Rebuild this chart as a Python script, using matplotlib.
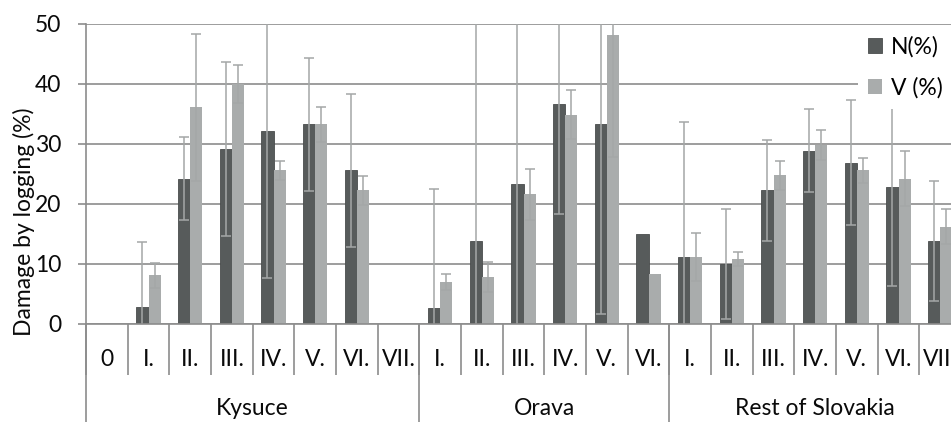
import numpy as np
import matplotlib.pyplot as plt

plt.rcParams['font.family'] = ['Lato', 'DejaVu Sans']

# stand groups and age classes
groups = ['Kysuce', 'Orava', 'Rest of Slovakia']
classes = [['0', 'I.', 'II.', 'III.', 'IV.', 'V.', 'VI.', 'VII.'],
           ['I.', 'II.', 'III.', 'IV.', 'V.', 'VI.'],
           ['I.', 'II.', 'III.', 'IV.', 'V.', 'VI.', 'VII.']]

nan = np.nan
# damage by number of trees, N(%)
n_kysuce = [nan, 2.8, 24.2, 29.2, 32.2, 33.3, 25.6, nan]
n_orava = [2.6, 13.9, 23.4, 36.6, 33.3, 15.0]
n_rest = [11.1, 10.0, 22.3, 28.9, 26.9, 22.9, 13.8]
n_kysuce_err = [nan, 10.9, 6.9, 14.5, 24.5, 11.1, 12.7, nan]
n_orava_err = [19.9, 38.0, 30.0, 18.3, 31.6, nan]
n_rest_err = [22.6, 9.1, 8.4, 6.9, 10.4, 16.6, 10.0]

# damage by volume, V (%)
v_kysuce = [nan, 8.1, 36.1, 40.0, 25.6, 33.3, 22.3, nan]
v_orava = [7.0, 7.8, 21.6, 34.9, 48.2, 8.3]
v_rest = [11.1, 10.8, 24.8, 29.9, 25.6, 24.2, 16.2]
v_kysuce_err = [nan, 2.1, 12.2, 3.1, 1.6, 2.9, 2.4, nan]
v_orava_err = [1.3, 2.5, 4.3, 4.1, 20.4, nan]
v_rest_err = [4.0, 1.2, 2.4, 2.5, 2.1, 4.6, 2.9]

n_vals = np.array(n_kysuce + n_orava + n_rest)
v_vals = np.array(v_kysuce + v_orava + v_rest)
n_err = np.array(n_kysuce_err + n_orava_err + n_rest_err)
v_err = np.array(v_kysuce_err + v_orava_err + v_rest_err)
labels = [c for g in classes for c in g]
x = np.arange(len(labels))

sizes = [len(g) for g in classes]
edges = np.concatenate([[0], np.cumsum(sizes)]) - 0.5
group_mid = (edges[:-1] + edges[1:]) / 2

c_n = '#575b5b'
c_v = '#a9acac'
c_line = '#8c8c8c'
c_err = '#a4a7a7'
c_txt = '#0a0a0a'
fs = 16.5
w = 0.29

fig = plt.figure(figsize=(9.51, 4.22), dpi=100)
ax = fig.add_axes([86 / 951, 98 / 422, 875 / 951, 300 / 422])

ax.bar(x - w / 2, n_vals, w, color=c_n, edgecolor='#4a4d4d', linewidth=0.6, label='N(%)')
ax.bar(x + w / 2, v_vals, w, color=c_v, label='V (%)')

m = ~np.isnan(n_err)
ax.errorbar(x[m] - w / 2, n_vals[m], yerr=n_err[m], fmt='none', ecolor=c_err,
            elinewidth=1.1, capsize=3.6, capthick=1.1)
m = ~np.isnan(v_err)
ax.errorbar(x[m] + w / 2, v_vals[m], yerr=v_err[m], fmt='none', ecolor=c_err,
            elinewidth=1.1, capsize=3.6, capthick=1.1)

ax.set_xlim(-0.5, len(labels) - 0.5)
ax.set_ylim(0, 50)
ax.set_yticks(np.arange(0, 51, 10))
ax.yaxis.grid(True, color=c_line, linewidth=1.2)
ax.set_axisbelow(True)
for s in ['top', 'right']:
    ax.spines[s].set_visible(False)
for s in ['left', 'bottom']:
    ax.spines[s].set_color(c_line)
    ax.spines[s].set_linewidth(1.2)

ax.tick_params(axis='y', length=5.8, width=1.2, color=c_line, pad=12,
               labelsize=fs, labelcolor=c_txt)

# first row: age classes with separators
ax.set_xticks(x, labels=labels)
ax.set_xticks(edges[0] + np.arange(len(labels) + 1), minor=True)
ax.tick_params(axis='x', which='major', length=0, pad=18, labelsize=fs,
               labelcolor=c_txt)
ax.tick_params(axis='x', which='minor', length=36.7, width=1.2, color=c_line)

# second row: regions
sec = ax.secondary_xaxis('bottom')
sec.spines['bottom'].set_visible(False)
sec.set_xticks(group_mid, labels=groups)
sec.set_xticks(edges, minor=True)
sec.tick_params(axis='x', which='major', length=0, pad=53, labelsize=fs,
                labelcolor=c_txt)
sec.tick_params(axis='x', which='minor', length=72, width=1.2, color=c_line)

fig.text(24 / 951, 1 - 222 / 422, 'Damage by logging (%)', rotation=90,
         ha='center', va='center', fontsize=16.5, color=c_txt)

leg = ax.legend(loc='upper left', bbox_to_anchor=(858 / 951, 1 - 26 / 422),
                bbox_transform=fig.transFigure, fontsize=fs, frameon=True,
                fancybox=False, borderpad=0.45, borderaxespad=0,
                handlelength=0.6, handleheight=0.6, handletextpad=0.4,
                labelspacing=0.85)
leg.get_frame().set_facecolor('white')
leg.get_frame().set_edgecolor('none')
leg.get_frame().set_alpha(1)

fig.savefig('out.png', dpi=100)
